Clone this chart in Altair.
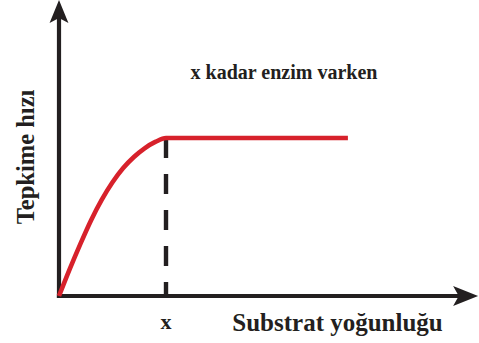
import altair as alt
import pandas as pd

# Reaction rate vs substrate concentration (enzyme amount fixed at "x")
substrate = [0.0, 0.1, 0.2, 0.3, 0.4, 0.5, 0.6, 0.7, 0.8, 0.9, 1.0, 2.7]
rate = [0.0, 0.17, 0.33, 0.48, 0.61, 0.72, 0.81, 0.88, 0.935, 0.975, 1.0, 1.0]

saturation_point = 1.0      # substrate value marked "x"
x_axis_end = 3.80
y_axis_end = 1.80

RED = "#d7212b"
INK = "#231f20"
FONT = "Liberation Serif"

X_SCALE = alt.Scale(domain=[-0.5514, 3.9252], nice=False, zero=False)
Y_SCALE = alt.Scale(domain=[-0.2975, 1.8734], nice=False, zero=False)


def xy(chart):
    return chart.encode(
        x=alt.X("x:Q", scale=X_SCALE, axis=None),
        y=alt.Y("y:Q", scale=Y_SCALE, axis=None),
    )


curve_df = pd.DataFrame({"x": substrate, "y": rate})
curve = xy(alt.Chart(curve_df).mark_line(
    color=RED, strokeWidth=4.6, interpolate="monotone", strokeCap="butt"
))

# axes drawn as rules
axes_df = pd.DataFrame({
    "x": [0.0, 0.0], "x2": [x_axis_end, 0.0],
    "y": [0.0, 0.0], "y2": [0.0, y_axis_end],
})
axes = xy(alt.Chart(axes_df).mark_rule(color=INK, strokeWidth=4.2, strokeCap="square")).encode(
    x2="x2:Q", y2="y2:Q"
)

# arrow heads
up_arrow = "M0,-1 L0.82,1 L0,0.55 L-0.82,1 Z"
right_arrow = "M1,0 L-1,-0.8 L-0.55,0 L-1,0.8 Z"
arrow_up = xy(alt.Chart(pd.DataFrame({"x": [0.0], "y": [y_axis_end]})).mark_point(
    shape=up_arrow, size=529, filled=True, color=INK, opacity=1
))
arrow_right = xy(alt.Chart(pd.DataFrame({"x": [x_axis_end], "y": [0.0]})).mark_point(
    shape=right_arrow, size=625, filled=True, color=INK, opacity=1
))

# dashed drop line at the saturation point
drop = xy(alt.Chart(pd.DataFrame({"x": [saturation_point], "y": [1.0], "y2": [0.0]})).mark_rule(
    color=INK, strokeWidth=4.4, strokeDash=[20, 16]
)).encode(y2="y2:Q")


def label(text, x, y, size, angle=0):
    return xy(alt.Chart(pd.DataFrame({"x": [x], "y": [y], "t": [text]})).mark_text(
        font=FONT, fontWeight="bold", fontSize=size, color=INK,
        align="center", baseline="middle", angle=angle,
    )).encode(text="t:N")


labels = [
    label("x", saturation_point, -0.165, 22),
    label("Substrat yoğunluğu", 2.603, -0.171, 25),
    label("x kadar enzim varken", 2.103, 1.411, 20),
    label("Tepkime hızı", -0.299, 0.88, 24.5, angle=270),
]

chart = alt.layer(axes, arrow_up, arrow_right, drop, curve, *labels).properties(
    width=479, height=343, padding=0, autosize=alt.AutoSizeParams(type="none"),
    background="white",
).configure_view(stroke=None)

chart.save("out.html", embed_options={"renderer": "svg", "actions": False})
